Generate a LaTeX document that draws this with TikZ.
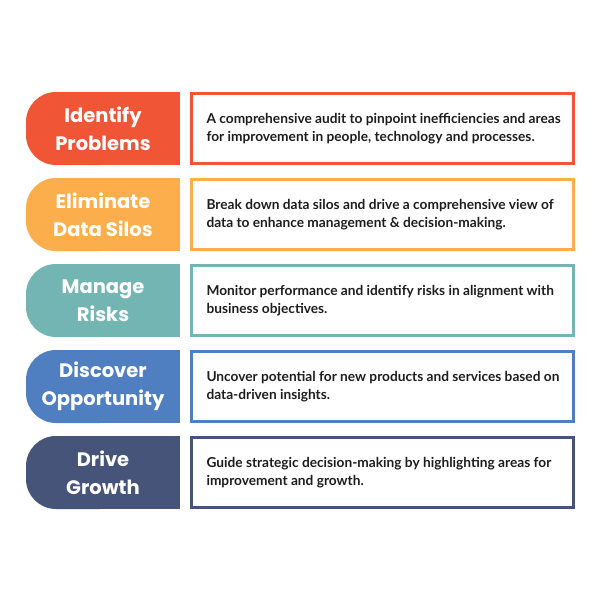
\documentclass[tikz,border=0pt]{standalone}
\usepackage{fontspec}
\setmainfont{Lato}
\newfontfamily\titlefont{Poppins}
\definecolor{cA}{HTML}{F05535}
\definecolor{cB}{HTML}{FBAE4B}
\definecolor{cC}{HTML}{72B5B3}
\definecolor{cD}{HTML}{4F7EC1}
\definecolor{cE}{HTML}{46547A}
\definecolor{txt}{HTML}{1E1E1E}
\begin{document}
\begin{tikzpicture}[x=1pt,y=-1pt,
  tabtext/.style={text=white,font=\titlefont\bfseries\fontsize{19.5}{28}\selectfont,align=center},
  desctext/.style={text=txt,font=\bfseries\fontsize{13.7}{18}\selectfont,align=left,anchor=west},
  descbox/.style={draw=#1,line width=3pt}]
\useasboundingbox (0,0) rectangle (600,600);
\fill[white] (0,0) rectangle (600,600);
\foreach \i/\c/\ta/\tb/\da/\db in {
 0/cA/Identify/Problems/{A comprehensive audit to pinpoint inefficiencies and areas}/{for improvement in people, technology and processes.},
 1/cB/Eliminate/Data Silos/{Break down data silos and drive a comprehensive view of}/{data to enhance management \& decision-making.},
 2/cC/Manage/Risks/{Monitor performance and identify risks in alignment with}/{business objectives.},
 3/cD/Discover/Opportunity/{Uncover potential for new products and services based on}/{data-driven insights.},
 4/cE/Drive/Growth/{Guide strategic decision-making by highlighting areas for}/{improvement and growth.}}{
  \pgfmathsetmacro{\yt}{92+86*\i}
  \pgfmathsetmacro{\yb}{\yt+73}
  \pgfmathsetmacro{\ym}{\yt+36.5}
  \fill[\c,rounded corners=30pt] (26,\yt) rectangle (130,\yb);
  \fill[\c] (100,\yt) rectangle (180,\yb);
  \node[tabtext] (t\i) at (103,\ym) {\ta\\\tb};
  \draw[descbox=\c] (191.5,\yt+1.5) rectangle (573.5,\yb-1.5);
  \node[desctext] (d\i) at (203,\ym) {\da\\\db};
}
\end{tikzpicture}
\end{document}
